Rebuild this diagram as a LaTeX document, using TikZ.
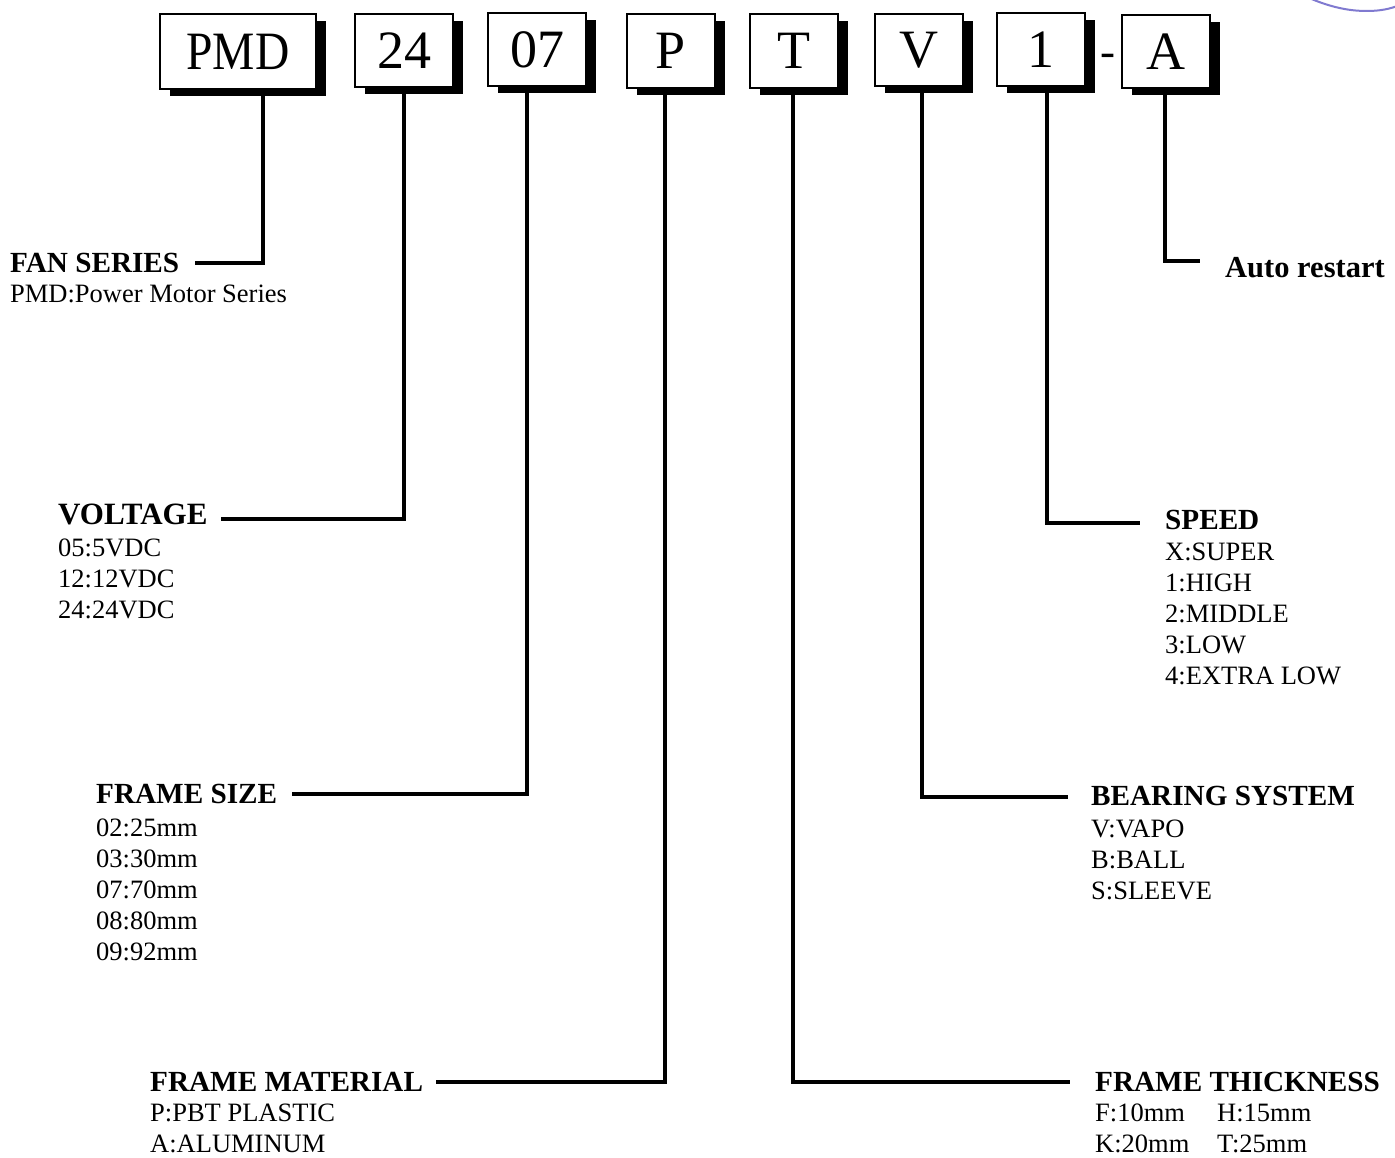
\documentclass[tikz,border=0pt]{standalone}
\usepackage{fontspec}
\setmainfont{Liberation Serif}
\usepackage{graphicx}
\usetikzlibrary{shadows}
\definecolor{arccol}{RGB}{128,122,208}
\tikzset{
  fbox/.style={draw=black, line width=1.8pt, fill=white, inner sep=0pt,
    minimum height=74pt, font=\fontsize{54}{60}\selectfont,
    drop shadow={shadow xshift=10pt, shadow yshift=-7pt, fill=black, opacity=1}},
  conn/.style={line width=4.8pt, line join=miter},
  head/.style={font=\fontsize{29.2}{34}\selectfont\bfseries, inner sep=0pt,
    text height=19.3pt, text depth=0pt},
  headr/.style={head, anchor=west},
  listtxt/.style={font=\fontsize{26.5}{31}\selectfont, inner sep=0pt,
    align=left, anchor=north west},
}
\begin{document}
\begin{tikzpicture}[x=1pt,y=-1pt]
\useasboundingbox (0,0) rectangle (1395,1158);
\fill[white] (0,0) rectangle (1395,1158);

% headings
\node[headr] (fan) at (10,263) {FAN SERIES};
\node[headr, font=\fontsize{31}{36}\selectfont\bfseries, text height=20.5pt] (volt) at (58,514) {VOLTAGE};
\node[headr] (fsize) at (96,794) {FRAME SIZE};
\node[headr] (fmat) at (150,1082) {FRAME MATERIAL};
\node[headr] (thick) at (1095,1082) {FRAME THICKNESS};
\node[headr] (bear) at (1091,796) {BEARING SYSTEM};
\node[headr] (speed) at (1165,520) {SPEED};
\node[headr, font=\fontsize{30.5}{36}\selectfont\bfseries, text height=20.2pt] (auto) at (1225,267) {Auto restart};

% lists
\node[listtxt] (fanl) at (10,285) {PMD:Power Motor Series};
\node[listtxt] (voltl) at (58,539) {05:5VDC\\12:12VDC\\24:24VDC};
\node[listtxt] (fsizel) at (96,819) {02:25mm\\03:30mm\\07:70mm\\08:80mm\\09:92mm};
\node[listtxt] (fmatl) at (150,1104) {P:PBT PLASTIC\\A:ALUMINUM};
\node[listtxt] (speedl) at (1165,543) {X:SUPER\\1:HIGH\\2:MIDDLE\\3:LOW\\4:EXTRA LOW};
\node[listtxt] (bearl) at (1091,820) {V:VAPO\\B:BALL\\S:SLEEVE};
\node[listtxt] (thickl) at (1095,1104) {\makebox[122pt][l]{F:10mm}H:15mm\\\makebox[122pt][l]{K:20mm}T:25mm};

% boxes
\node[fbox, minimum width=156pt, minimum height=75pt] (pmd) at (238,51.5) {\scalebox{0.88}[1]{PMD}};
\node[fbox, minimum width=98pt, minimum height=73pt] (n24) at (404,50.5) {24};
\node[fbox, minimum width=98pt, minimum height=73pt] (n07) at (537,49.5) {07};
\node[fbox, minimum width=88pt] (np) at (671,51) {P};
\node[fbox, minimum width=88pt] (nt) at (794,51) {T};
\node[fbox, minimum width=88pt, minimum height=72pt] (nv) at (919,50) {V};
\node[fbox, minimum width=88pt, minimum height=73pt] (n1) at (1041,49.5) {1};
\node[fbox, minimum width=88pt, minimum height=73pt] (na) at (1166,51.5) {A};
\node[inner sep=0pt, anchor=base, font=\fontsize{45}{50}\selectfont] (dash) at (1107.5,66.6) {-};

% connectors
\draw[conn] ([xshift=25pt]pmd.south) |- ([xshift=16pt]fan.east);
\draw[conn] (n24.south) |- ([xshift=13pt,yshift=-5pt]volt.east);
\draw[conn] ([xshift=-10pt]n07.south) |- ([xshift=15pt]fsize.east);
\draw[conn] ([xshift=-6pt]np.south) |- ([xshift=13pt]fmat.east);
\draw[conn] ([xshift=-1pt]nt.south) |- ([xshift=-25pt]thick.west);
\draw[conn] ([xshift=3pt]nv.south) |- ([xshift=-23pt,yshift=-1pt]bear.west);
\draw[conn] ([xshift=6pt]n1.south) |- ([xshift=-25pt,yshift=-3pt]speed.west);
\draw[conn] ([xshift=-1pt]na.south) |- ([xshift=-25pt,yshift=6pt]auto.west);

% partial arc at top right
\draw[arccol, line width=2pt] (1300,-6) .. controls (1330,8) and (1350,11) .. (1367,11) .. controls (1380,11) and (1390,9) .. (1400,5);
\end{tikzpicture}
\end{document}
